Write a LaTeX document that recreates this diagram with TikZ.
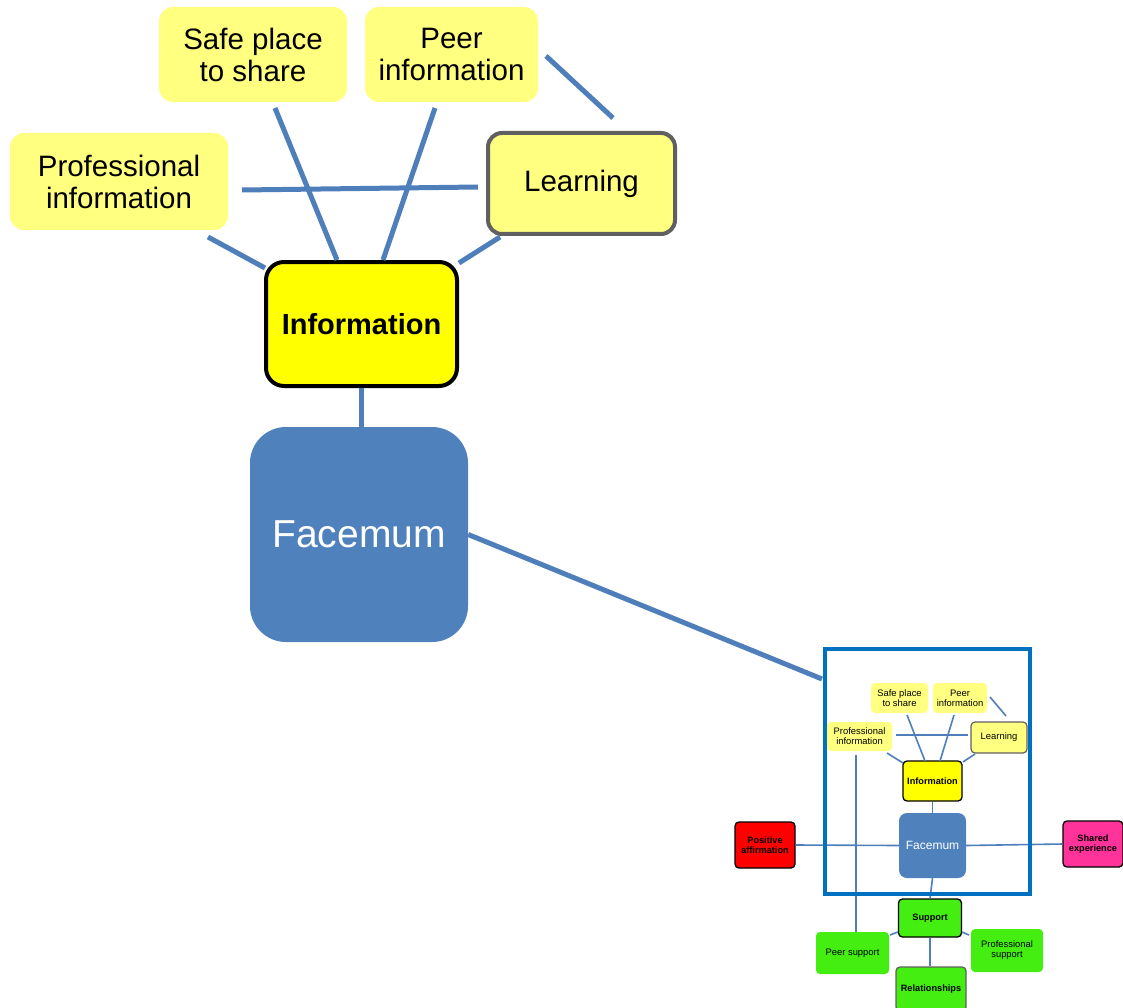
\documentclass[tikz,border=0pt]{standalone}
\usepackage{fontspec}
\setmainfont{Liberation Sans}
\definecolor{lineblue}{HTML}{4F7FBA}
\definecolor{faceblue}{HTML}{4F81BD}
\definecolor{lightyel}{HTML}{FFFF80}
\definecolor{brightyel}{HTML}{FFFF00}
\definecolor{framblue}{HTML}{0070C0}
\definecolor{grn}{HTML}{44EE11}
\definecolor{magenta2}{HTML}{FF3399}
\definecolor{grayb}{HTML}{606060}
\begin{document}
\begin{tikzpicture}[x=1pt,y=-1pt,
  box/.style={rectangle,inner sep=0pt,align=center},
  ybox/.style={box,fill=lightyel,rounded corners=14pt,font=\fontsize{29.5}{32}\selectfont},
  conn/.style={draw=lineblue,line width=5pt},
  sconn/.style={draw=lineblue,line width=1.6pt},
  sbox/.style={box,rounded corners=4pt,font=\fontsize{9.4}{10}\selectfont},
  sboxb/.style={box,rounded corners=4pt,font=\fontsize{9.2}{10}\selectfont\bfseries},
]
\useasboundingbox (0,0) rectangle (1123,1008);
\fill[white] (0,0) rectangle (1123,1008);

% ---------- main diagram ----------
\node[ybox,minimum width=218pt,minimum height=97pt] (pi) at (119,181.5) {Professional\\information};
\node[ybox,minimum width=188pt,minimum height=95pt] (sp) at (253,54.5) {Safe place\\to share};
\node[ybox,minimum width=173pt,minimum height=95pt] (peer) at (451.5,54.5) {Peer\\information};
\node[ybox,draw=grayb,line width=4pt,minimum width=187pt,minimum height=101pt] (learn) at (581.5,183.5) {Learning};
\node[box,fill=brightyel,draw=black,line width=4pt,rounded corners=18pt,minimum width=191pt,minimum height=124pt,font=\fontsize{29}{32}\selectfont\bfseries] (info) at (361.5,324) {Information};
\node[box,fill=faceblue,rounded corners=36pt,minimum width=218pt,minimum height=215pt,text=white,font=\fontsize{39}{44}\selectfont] (face) at (359,534.5) {Facemum};

\coordinate (piA) at (208,237);
\coordinate (infA) at (265,268);
\coordinate (spA) at (275,108);
\coordinate (infB) at (337,260);
\coordinate (peerA) at (435,108);
\coordinate (infC) at (383,260);
\coordinate (lrA) at (500,237);
\coordinate (infD) at (459,263);
\coordinate (piB) at (242,190);
\coordinate (lrB) at (478,187);
\coordinate (peerB) at (546,56);
\coordinate (lrC) at (613,118);
\coordinate (inset) at (822,679);

\draw[conn] (piA) -- (infA);
\draw[conn] (spA) -- (infB);
\draw[conn] (peerA) -- (infC);
\draw[conn] (lrA) -- (infD);
\draw[conn] (piB) -- (lrB);
\draw[conn] (peerB) -- (lrC);
\draw[conn] (info.south) -- (info.south |- face.north);
\draw[conn] (face.east) -- (inset);

% ---------- inset ----------
\coordinate (s_pi1) at (856,755);
\coordinate (s_ps1) at (856,933);
\draw[sconn] (s_pi1) -- (s_ps1);

\node[sbox,fill=lightyel,minimum width=65pt,minimum height=29pt] (s_pi) at (859.5,736.5) {Professional\\information};
\node[sbox,fill=lightyel,minimum width=57pt,minimum height=30pt] (s_sp) at (899.5,698) {Safe place\\to share};
\node[sbox,fill=lightyel,minimum width=54pt,minimum height=30pt] (s_peer) at (960,698) {Peer\\information};
\node[sbox,fill=lightyel,draw=grayb,line width=1.2pt,minimum width=56pt,minimum height=31pt] (s_learn) at (999,737.5) {Learning};
\node[sboxb,fill=brightyel,draw=black,line width=1.3pt,minimum width=59pt,minimum height=40pt] (s_info) at (932.5,781) {Information};
\node[sbox,fill=faceblue,rounded corners=8pt,minimum width=67pt,minimum height=65pt,text=white,font=\fontsize{12}{14}\selectfont] (s_face) at (932.5,845.5) {Facemum};
\node[sboxb,fill=red,draw=black,line width=1.3pt,minimum width=60pt,minimum height=46pt] (s_pos) at (765,845) {Positive\\affirmation};
\node[sboxb,fill=magenta2,draw=black,line width=1.3pt,minimum width=60pt,minimum height=46pt] (s_shared) at (1093,844) {Shared\\experience};
\node[sboxb,fill=grn,draw=black,line width=1.3pt,minimum width=63pt,minimum height=38pt] (s_sup) at (930,918) {Support};
\node[sbox,fill=grn,minimum width=73pt,minimum height=42pt] (s_peers) at (852.5,953) {Peer support};
\node[sbox,fill=grn,minimum width=72pt,minimum height=43pt] (s_profs) at (1007,950.5) {Professional\\support};
\node[sboxb,fill=grn,draw=grayb,line width=1.3pt,minimum width=70pt,minimum height=44pt] (s_rel) at (931,989) {Relationships};

\coordinate (s_spA) at (907,715);
\coordinate (s_infB) at (925,761);
\coordinate (s_peerA) at (954,715);
\coordinate (s_infC) at (940,761);
\coordinate (s_piA) at (887,753);
\coordinate (s_infA) at (903,763);
\coordinate (s_lrA) at (975,754);
\coordinate (s_infD) at (963,762);
\coordinate (s_piB) at (896,735);
\coordinate (s_lrB) at (968,735);
\coordinate (s_peerB) at (990,697);
\coordinate (s_lrC) at (1006,716);
\coordinate (s_supA) at (890,935);
\coordinate (s_supB) at (969,935);

\draw[sconn] (s_spA) -- (s_infB);
\draw[sconn] (s_peerA) -- (s_infC);
\draw[sconn] (s_piA) -- (s_infA);
\draw[sconn] (s_lrA) -- (s_infD);
\draw[sconn] (s_piB) -- (s_lrB);
\draw[sconn] (s_peerB) -- (s_lrC);
\draw[sconn] (s_info.south) -- (s_info.south |- s_face.north);
\draw[sconn] (s_pos.east) -- (s_face.west);
\draw[sconn] (s_face.east) -- (s_shared.west);
\draw[sconn] (s_face.south) -- (s_sup.north);
\draw[sconn] (s_sup.south) -- (s_sup.south |- s_rel.north);
\draw[sconn] (s_sup.west) ++(0,14) -- (s_supA);
\draw[sconn] (s_sup.east) ++(0,14) -- (s_supB);

% frame
\draw[draw=framblue,line width=4.5pt] (825,649) rectangle (1030,894);
\end{tikzpicture}
\end{document}
